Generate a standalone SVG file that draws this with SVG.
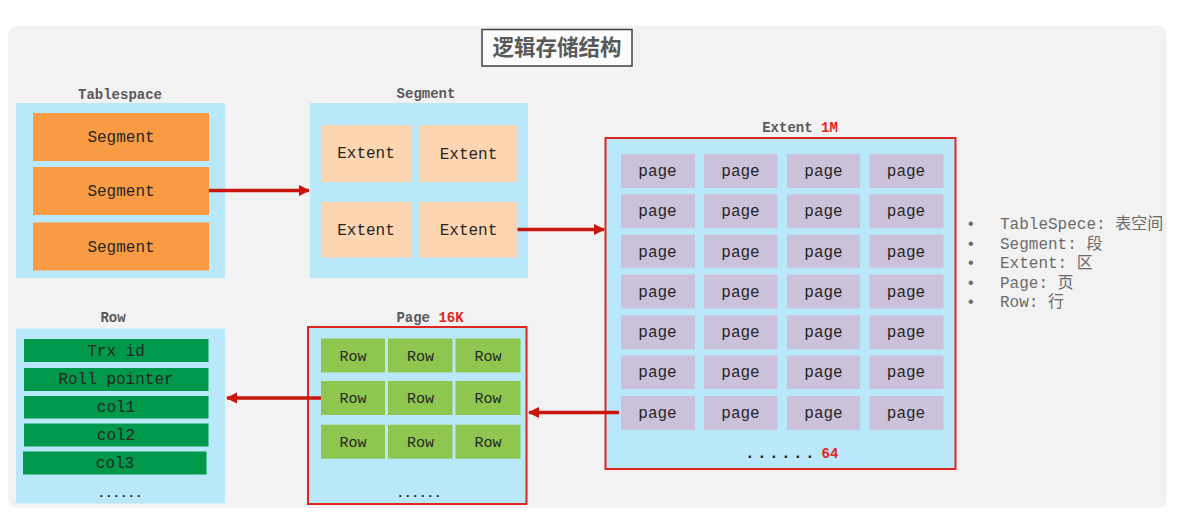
<svg xmlns="http://www.w3.org/2000/svg" width="1195" height="528" viewBox="0 0 1195 528">
<style>
.lbl{font-family:"Liberation Mono","Courier New",monospace;font-size:14px;font-weight:bold;fill:#595959;text-anchor:middle}
.red{fill:#e0261c}
.t{font-family:"Liberation Mono","Courier New",monospace;font-size:16px;fill:#262626;text-anchor:middle;dominant-baseline:central}
.blue{fill:#b9e8fa}
.seg{fill:#f89b42}
.ext{fill:#fdd5b1}
.pg{fill:#ccc1da}
.grn{fill:#00994c}
.lg{fill:#8fc64f}
.box{stroke:#e0261c;stroke-width:2}
.dots{font-family:"Liberation Mono","Courier New",monospace;font-weight:bold;fill:#1a1a1a;text-anchor:middle}
.leg{font-family:"Liberation Mono","Noto Sans CJK SC",monospace;font-size:16px;fill:#6b6b6b}
.arr{stroke:#c8160c;stroke-width:3.5;fill:none}
</style>
<defs>
<marker id="ah" viewBox="0 0 10 10" refX="9" refY="5" markerWidth="3.2" markerHeight="3.2" orient="auto" markerUnits="strokeWidth">
<path d="M0,0 L10,5 L0,10 z" fill="#c8160c"/>
</marker>
</defs>
<rect x="0" y="0" width="1195" height="528" fill="#ffffff"/>
<rect x="8" y="26" width="1159" height="482" rx="9" fill="#f2f2f2"/>
<g id="title">
<rect x="482" y="29.5" width="150" height="36.5" fill="#fbfbfb" stroke="#404040" stroke-width="1.5"/>
<text x="557" y="55" text-anchor="middle" font-family="'Noto Sans CJK SC',sans-serif" font-size="21.5" font-weight="bold" fill="#595959">逻辑存储结构</text>
</g>
<g id="tablespace">
<text class="lbl" x="120" y="99">Tablespace</text>
<rect class="blue" x="16" y="103" width="209" height="175"/>
<rect class="seg" x="33" y="113" width="176" height="48"/>
<text class="t" x="121" y="138">Segment</text>
<rect class="seg" x="33" y="167" width="176" height="48"/>
<text class="t" x="121" y="192">Segment</text>
<rect class="seg" x="33" y="222.5" width="176" height="48"/>
<text class="t" x="121" y="247.5">Segment</text>
</g>
<g id="segment">
<text class="lbl" x="426" y="98">Segment</text>
<rect class="blue" x="310" y="103" width="218" height="175"/>
<rect class="ext" x="321" y="125" width="91" height="57"/>
<text class="t" x="366" y="154">Extent</text>
<rect class="ext" x="420" y="125" width="97.5" height="57"/>
<text class="t" x="468.5" y="155">Extent</text>
<rect class="ext" x="321" y="202" width="91" height="55.5"/>
<text class="t" x="366" y="231">Extent</text>
<rect class="ext" x="420" y="202" width="97.5" height="55.5"/>
<text class="t" x="468.5" y="231">Extent</text>
</g>
<g id="extent">
<text class="lbl" x="800" y="132"><tspan>Extent </tspan><tspan class="red">1M</tspan></text>
<rect class="blue box" x="605.5" y="138" width="350" height="331"/>
<g id="pages">
<g class="pg">
<rect x="621" y="154" width="74" height="34"/><rect x="704" y="154" width="73.5" height="34"/><rect x="787" y="154" width="73" height="34"/><rect x="869.5" y="154" width="74" height="34"/>
<rect x="621" y="194.3" width="74" height="34"/><rect x="704" y="194.3" width="73.5" height="34"/><rect x="787" y="194.3" width="73" height="34"/><rect x="869.5" y="194.3" width="74" height="34"/>
<rect x="621" y="234.7" width="74" height="33"/><rect x="704" y="234.7" width="73.5" height="33"/><rect x="787" y="234.7" width="73" height="33"/><rect x="869.5" y="234.7" width="74" height="33"/>
<rect x="621" y="274.5" width="74" height="34"/><rect x="704" y="274.5" width="73.5" height="34"/><rect x="787" y="274.5" width="73" height="34"/><rect x="869.5" y="274.5" width="74" height="34"/>
<rect x="621" y="315.3" width="74" height="34"/><rect x="704" y="315.3" width="73.5" height="34"/><rect x="787" y="315.3" width="73" height="34"/><rect x="869.5" y="315.3" width="74" height="34"/>
<rect x="621" y="355.5" width="74" height="33.5"/><rect x="704" y="355.5" width="73.5" height="33.5"/><rect x="787" y="355.5" width="73" height="33.5"/><rect x="869.5" y="355.5" width="74" height="33.5"/>
<rect x="621" y="396" width="74" height="34"/><rect x="704" y="396" width="73.5" height="34"/><rect x="787" y="396" width="73" height="34"/><rect x="869.5" y="396" width="74" height="34"/>
</g>
<g class="t">
<text x="657.5" y="171.5">page</text><text x="740.5" y="172">page</text><text x="823.5" y="172">page</text><text x="906" y="172">page</text>
<text x="657.5" y="212">page</text><text x="740.5" y="212">page</text><text x="823.5" y="212">page</text><text x="906" y="212">page</text>
<text x="657.5" y="252.5">page</text><text x="740.5" y="252.5">page</text><text x="823.5" y="252.5">page</text><text x="906" y="252.5">page</text>
<text x="657.5" y="292.5">page</text><text x="740.5" y="292.5">page</text><text x="823.5" y="292.5">page</text><text x="906" y="292.5">page</text>
<text x="657.5" y="333">page</text><text x="740.5" y="333">page</text><text x="823.5" y="333">page</text><text x="906" y="333">page</text>
<text x="657.5" y="373">page</text><text x="740.5" y="373">page</text><text x="823.5" y="373">page</text><text x="906" y="373">page</text>
<text x="657.5" y="413.5">page</text><text x="740.5" y="413.5">page</text><text x="823.5" y="413.5">page</text><text x="906" y="413.5">page</text>
</g>
</g>
<text class="dots" x="781" y="458" font-size="16" letter-spacing="2.4">......</text>
<text class="dots" x="830" y="458" font-size="14" style="fill:#e0261c">64</text>
</g>
<g id="legend" class="leg">
<text x="966" y="229">•</text><text x="1000" y="229">TableSpece: 表空间</text>
<text x="966" y="248.5">•</text><text x="1000" y="248.5">Segment: 段</text>
<text x="966" y="268">•</text><text x="1000" y="268">Extent: 区</text>
<text x="966" y="287.5">•</text><text x="1000" y="287.5">Page: 页</text>
<text x="966" y="307">•</text><text x="1000" y="307">Row: 行</text>
</g>
<g id="page">
<text class="lbl" x="430" y="322"><tspan>Page </tspan><tspan class="red">16K</tspan></text>
<rect class="blue box" x="308" y="327" width="218.5" height="177"/>
<g class="lg">
<rect x="321" y="338.5" width="64" height="34"/><rect x="388" y="338.5" width="64.5" height="34"/><rect x="455.5" y="338.5" width="65" height="34"/>
<rect x="321" y="381" width="64" height="34"/><rect x="388" y="381" width="64.5" height="34"/><rect x="455.5" y="381" width="65" height="34"/>
<rect x="321" y="424.7" width="64" height="34"/><rect x="388" y="424.7" width="64.5" height="34"/><rect x="455.5" y="424.7" width="65" height="34"/>
</g>
<g class="t" style="font-size:15px">
<text x="353" y="357">Row</text><text x="420.5" y="357">Row</text><text x="488" y="357">Row</text>
<text x="353" y="399.5">Row</text><text x="420.5" y="399.5">Row</text><text x="488" y="399.5">Row</text>
<text x="353" y="443">Row</text><text x="420.5" y="443">Row</text><text x="488" y="443">Row</text>
</g>
<text class="dots" x="419" y="497" font-size="12.5">......</text>
</g>
<g id="row">
<text class="lbl" x="113" y="322">Row</text>
<rect class="blue" x="16" y="328.5" width="209" height="175"/>
<rect class="grn" x="24" y="339" width="184.5" height="23"/>
<text class="t" x="116" y="351.5">Trx id</text>
<rect class="grn" x="24" y="368" width="184.5" height="23"/>
<text class="t" x="116" y="380">Roll pointer</text>
<rect class="grn" x="24" y="396" width="184.5" height="22.5"/>
<text class="t" x="116" y="408">col1</text>
<rect class="grn" x="24" y="423.5" width="184.5" height="23"/>
<text class="t" x="116" y="436">col2</text>
<rect class="grn" x="23" y="451.5" width="183.5" height="23"/>
<text class="t" x="115" y="464">col3</text>
<text class="dots" x="120" y="497" font-size="12.5">......</text>
</g>
<g id="connectors">
<line class="arr" x1="209" y1="190.5" x2="309" y2="190.5" marker-end="url(#ah)"/>
<line class="arr" x1="517.5" y1="229.5" x2="604" y2="229.5" marker-end="url(#ah)"/>
<line class="arr" x1="619" y1="412.5" x2="529" y2="412.5" marker-end="url(#ah)"/>
<line class="arr" x1="321" y1="398" x2="227" y2="398" marker-end="url(#ah)"/>
</g>
</svg>
